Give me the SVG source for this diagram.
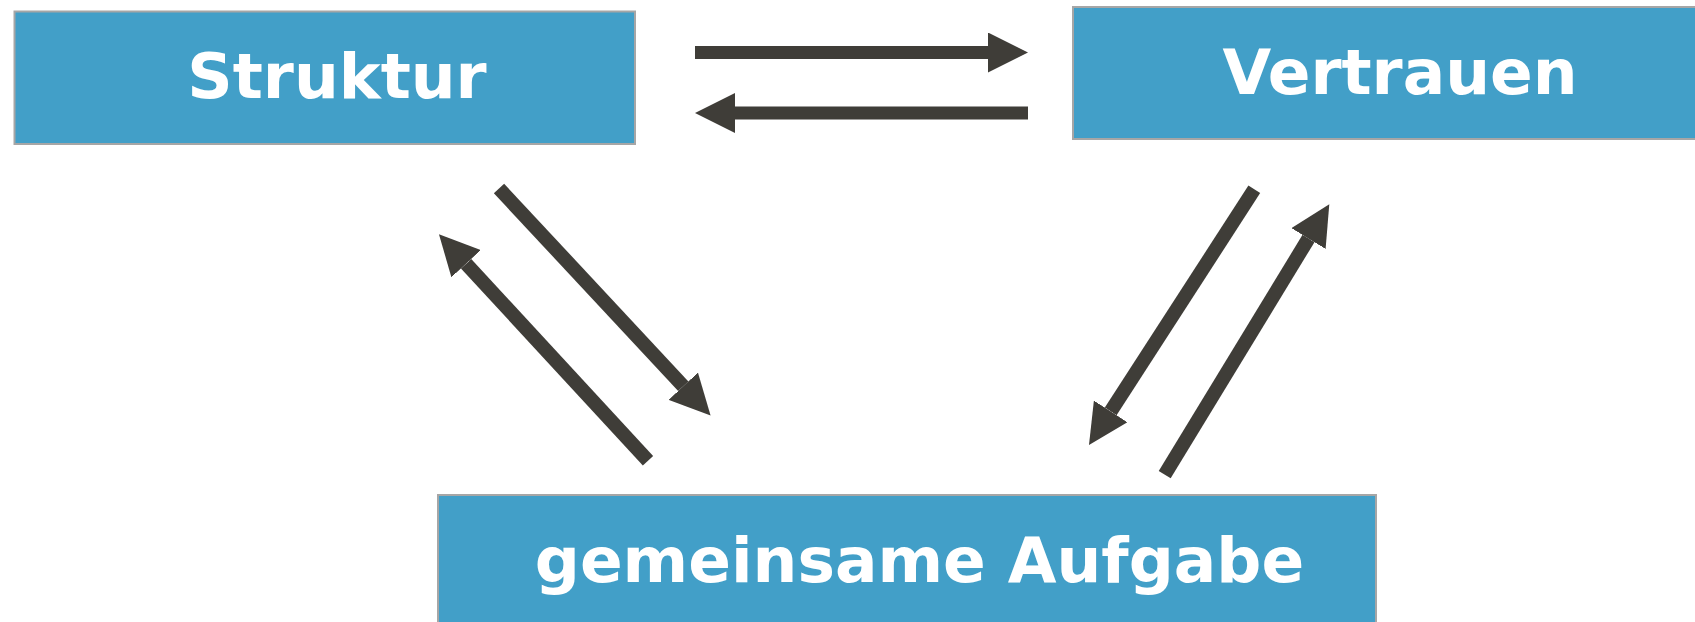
<svg xmlns="http://www.w3.org/2000/svg" width="1695" height="622" viewBox="0 0 1695 622">
<style>
.box{fill:#429FC8;stroke:#A6A6A6;stroke-width:2}
.lbl{font-family:"DejaVu Sans",Verdana,sans-serif;font-weight:bold;font-size:63px;fill:#FFFFFF;text-anchor:middle}
.con{stroke:#3F3D38;stroke-width:13;fill:none;marker-end:url(#ah)}
.diag{stroke-width:14}
</style>
<defs>
<marker id="ah" markerUnits="userSpaceOnUse" markerWidth="40" markerHeight="40" viewBox="0 0 40 40" refX="0" refY="20" orient="auto">
<path d="M0,0 L40,20 L0,40 Z" fill="#3F3D38"/>
</marker>
</defs>
<rect width="1695" height="622" fill="#FFFFFF"/>
<g id="node-struktur">
<rect class="box" x="14.5" y="11.5" width="620.5" height="132.5"/>
<text class="lbl" x="337" y="97.5">Struktur</text>
</g>
<g id="node-vertrauen">
<rect class="box" x="1073" y="7" width="640" height="132"/>
<text class="lbl" x="1400" y="94">Vertrauen</text>
</g>
<g id="node-aufgabe">
<rect class="box" x="438" y="495" width="938" height="150"/>
<text class="lbl" x="919.5" y="582">gemeinsame Aufgabe</text>
</g>
<g id="connectors">
<line class="con" x1="695" y1="52.5" x2="988" y2="52.5"/>
<line class="con" x1="1028" y1="113" x2="735" y2="113"/>
<line class="con diag" x1="499" y1="188.5" x2="683.3" y2="386.2"/>
<line class="con diag" x1="648" y1="460.7" x2="466.1" y2="263.7"/>
<line class="con diag" x1="1254.3" y1="189.3" x2="1110.7" y2="411.4"/>
<line class="con diag" x1="1164.7" y1="474.7" x2="1308.5" y2="238.5"/>
</g>
</svg>
